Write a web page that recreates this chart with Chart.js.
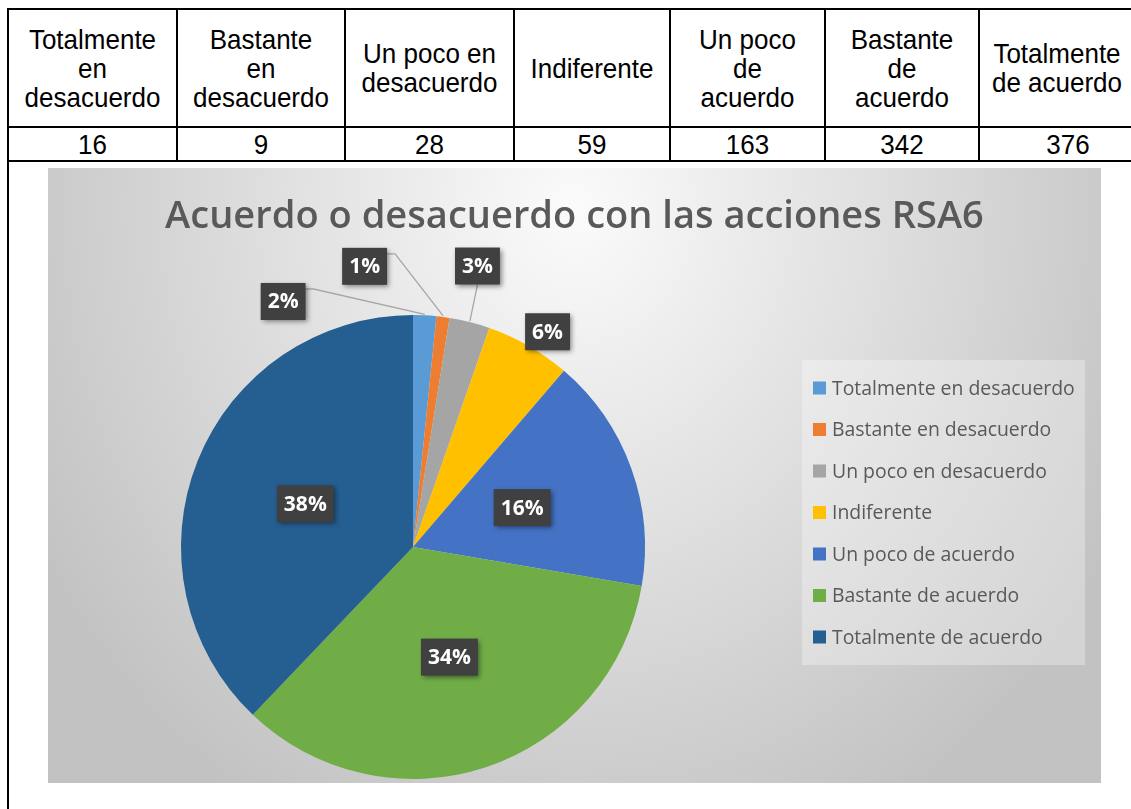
<!DOCTYPE html>
<html>
<head>
<meta charset="utf-8">
<script src="https://cdn.jsdelivr.net/npm/chart.js@4.4.0/dist/chart.umd.min.js"></script>
<style>
  html, body { margin: 0; padding: 0; width: 1131px; height: 809px; overflow: hidden; background: #fff; }
  #grid {
    position: absolute; left: 7px; top: 8px;
    display: grid; background: #000; padding: 2px 2px 0 2px; gap: 2px;
    grid-template-columns: 167px 166px 167px 154px 153px 152px 176px;
    grid-template-rows: 116px 32px 700px;
  }
  #grid div {
    background: #fff; display: flex; align-items: center; justify-content: center; text-align: center;
    font-family: "Liberation Sans", Arial, sans-serif; font-size: 26px; line-height: 27px;
    color: #000; white-space: pre-line;
  }
  #grid div span { display: inline-block; transform: scaleY(1.08); }
  #grid div.last { padding-right: 22px; }
  #grid .big { grid-column: 1 / span 7; }
  #chartBox { position: absolute; left: 48px; top: 168px; width: 1053px; height: 615px; }
</style>
</head>
<body>
<div id="grid"></div>
<div id="chartBox"><canvas id="pieChart" width="1053" height="615"></canvas></div>
<script>
const categories = ["Totalmente en desacuerdo", "Bastante en desacuerdo", "Un poco en desacuerdo", "Indiferente", "Un poco de acuerdo", "Bastante de acuerdo", "Totalmente de acuerdo"];
const headerLabels = ["Totalmente\nen\ndesacuerdo", "Bastante\nen\ndesacuerdo", "Un poco en\ndesacuerdo", "Indiferente", "Un poco\nde\nacuerdo", "Bastante\nde\nacuerdo", "Totalmente\nde acuerdo"];
const responses = [16, 9, 28, 59, 163, 342, 376];
const sliceColors = ["#5B9BD5", "#ED7D31", "#A5A5A5", "#FFC000", "#4472C4", "#70AD47", "#255E91"];
const chartTitle = "Acuerdo o desacuerdo con las acciones RSA6";

// small slices get their label pushed outside; shift is relative to the spot just past the rim
const calloutShift = [[-143, 14], [-82, -23], [1, -29], [5, 10], null, null, null];
const hasLeader = [true, true, true, false, false, false, false];

// table: header row, values row, then the big cell holding the chart
const grid = document.getElementById("grid");
function addCell(text, cls) {
  const d = document.createElement("div");
  const s = document.createElement("span");
  s.textContent = text;
  d.appendChild(s);
  if (cls) d.className = cls;
  grid.appendChild(d);
}
headerLabels.forEach((t, i) => addCell(t, i === headerLabels.length - 1 ? "last" : ""));
responses.forEach(v => addCell(String(v)));
const big = document.createElement("div"); big.className = "big"; grid.appendChild(big);

const total = responses.reduce((a, b) => a + b, 0);

function fitFont(ctx, weight, family, text, target) {
  ctx.font = `${weight} 40px ${family}`;
  return 40 * target / ctx.measureText(text).width;
}

// soft grey radial background
const backdrop = {
  id: "backdrop",
  beforeDraw(chart) {
    const { ctx, width, height } = chart;
    const cx = width / 2, cy = 40, s = 700 / 620;
    ctx.save();
    ctx.translate(cx, cy);
    ctx.scale(1, s);
    const g = ctx.createRadialGradient(0, 0, 0, 0, 0, 620);
    g.addColorStop(0, "#fbfbfb");
    g.addColorStop(1, "#c2c2c2");
    ctx.fillStyle = g;
    ctx.fillRect(-cx, -cy / s, width, height / s);
    ctx.restore();
  }
};

// title and legend panel
const headings = {
  id: "headings",
  afterDraw(chart) {
    const { ctx, width } = chart;
    ctx.save();
    const ts = fitFont(ctx, 600, '"Open Sans"', chartTitle, 819);
    ctx.font = `600 ${ts}px "Open Sans"`;
    ctx.fillStyle = "#595959";
    ctx.textAlign = "center";
    ctx.textBaseline = "middle";
    ctx.fillText(chartTitle, width / 2, 49);

    ctx.fillStyle = "rgba(255,255,255,0.3)";
    ctx.fillRect(754, 192, 283, 305);

    const ls = fitFont(ctx, 400, '"Open Sans"', categories[0], 243);
    ctx.font = `400 ${ls}px "Open Sans"`;
    ctx.textAlign = "left";
    const colors = chart.data.datasets[0].backgroundColor;
    chart.data.labels.forEach((lab, i) => {
      const y = 220 + i * 41.5;
      ctx.fillStyle = colors[i];
      ctx.fillRect(765, y - 6.5, 13, 13);
      ctx.fillStyle = "#595959";
      ctx.fillText(lab, 784, y + 1);
    });
    ctx.restore();
  }
};

// dark percentage boxes, with leader lines for the thin slices
const calloutLabels = {
  id: "calloutLabels",
  afterDatasetsDraw(chart) {
    const { ctx } = chart;
    const meta = chart.getDatasetMeta(0);
    ctx.save();
    ctx.font = 'bold 21px "Open Sans"';
    meta.data.forEach((arc, i) => {
      const text = Math.round(responses[i] / total * 100) + "%";
      const mid = (arc.startAngle + arc.endAngle) / 2;
      const shift = calloutShift[i];
      let cx, cy;
      if (shift) {
        cx = arc.x + Math.cos(mid) * arc.outerRadius * 1.12 + shift[0];
        cy = arc.y + Math.sin(mid) * arc.outerRadius * 1.12 + shift[1];
      } else {
        const p = arc.tooltipPosition();
        cx = p.x; cy = p.y;
      }
      const w = ctx.measureText(text).width + 14, h = 37;
      const l = cx - w / 2, t = cy - h / 2;

      if (hasLeader[i]) {
        const ax = arc.x + Math.cos(mid) * (arc.outerRadius + 1);
        const ay = arc.y + Math.sin(mid) * (arc.outerRadius + 1);
        ctx.strokeStyle = "#a6a6a6";
        ctx.lineWidth = 1.3;
        ctx.beginPath();
        if (ax > l + w + 10) {
          ctx.moveTo(l + w, t + 6);
          ctx.lineTo(l + w + 8, t + 6);
        } else {
          ctx.moveTo(cx, t + h);
        }
        ctx.lineTo(ax, ay);
        ctx.stroke();
      }

      ctx.save();
      ctx.shadowColor = "rgba(0,0,0,0.45)";
      ctx.shadowBlur = 5;
      ctx.shadowOffsetX = 2;
      ctx.shadowOffsetY = 2;
      ctx.fillStyle = "#404040";
      ctx.fillRect(l, t, w, h);
      ctx.restore();

      ctx.fillStyle = "#ffffff";
      ctx.textAlign = "center";
      ctx.textBaseline = "middle";
      ctx.fillText(text, cx, cy + 1);
    });
    ctx.restore();
  }
};

new Chart(document.getElementById("pieChart").getContext("2d"), {
  type: "pie",
  data: {
    labels: categories,
    datasets: [{ data: responses, backgroundColor: sliceColors, borderWidth: 0, hoverOffset: 0 }]
  },
  options: {
    responsive: false,
    animation: false,
    layout: { padding: { left: 133, right: 456, top: 147, bottom: 4 } },
    plugins: { legend: { display: false }, tooltip: { enabled: false }, title: { display: false } }
  },
  plugins: [backdrop, headings, calloutLabels]
});
</script>
</body>
</html>
